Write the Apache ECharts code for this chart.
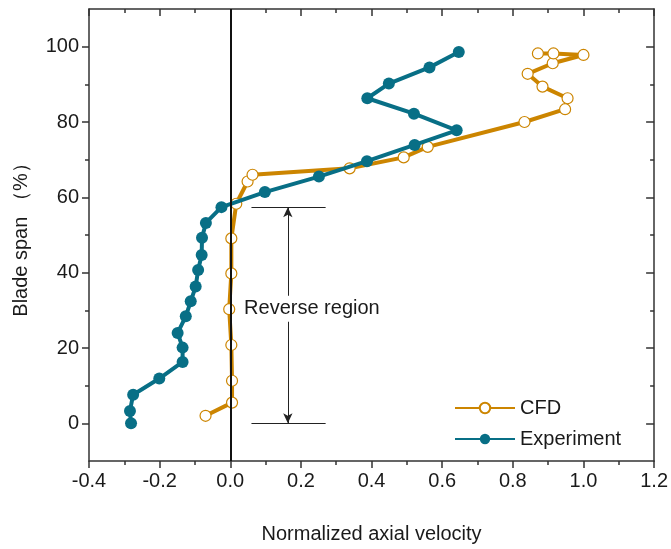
<!DOCTYPE html>
<html>
<head>
<meta charset="utf-8">
<script src="https://cdn.jsdelivr.net/npm/echarts@6/dist/echarts.min.js"></script>
<style>
  html, body { margin: 0; padding: 0; background: #fff; }
  #chart { width: 671px; height: 549px; }
</style>
</head>
<body>
<div id="chart"></div>
<script>
// CFD profile (open circles)
const cfdX = [-0.07, 0.005, 0.005, 0.003, -0.003, 0.003, 0.003, 0.017, 0.049, 0.063, 0.338, 0.491, 0.559, 0.833, 0.948, 0.955, 0.884, 0.842, 0.913, 1.0, 0.915, 0.871];
const cfdY = [2.0, 5.5, 11.3, 20.8, 30.3, 39.8, 49.1, 58.3, 64.2, 66.0, 67.7, 70.6, 73.4, 80.0, 83.4, 86.3, 89.4, 92.8, 95.6, 97.8, 98.2, 98.2];
// Experiment profile (filled circles)
const expX = [-0.281, -0.284, -0.275, -0.201, -0.135, -0.135, -0.149, -0.126, -0.112, -0.098, -0.091, -0.081, -0.080, -0.069, -0.025, 0.098, 0.251, 0.387, 0.522, 0.641, 0.520, 0.388, 0.449, 0.564, 0.647];
const expY = [0.0, 3.3, 7.6, 11.9, 16.3, 20.1, 24.0, 28.4, 32.4, 36.3, 40.7, 44.7, 49.3, 53.2, 57.4, 61.4, 65.5, 69.6, 73.9, 77.8, 82.2, 86.3, 90.2, 94.5, 98.6];

const xTicks = [-0.4, -0.2, 0.0, 0.2, 0.4, 0.6, 0.8, 1.0, 1.2];
const yMajor = [0, 20, 40, 60, 80, 100];
const yMinor = [10, 30, 50, 70, 90];

// reverse region annotation
const revX = [0.06, 0.27];
const revTop = 57.4;
const revBottom = 0;
const revArrowX = 0.163;
const revText = 'Reverse region';
const revTextPos = [0.032, 30.4];

const orange = '#CC8500';
const teal = '#086F86';
const axisColor = '#333';
const textColor = '#1a1a1a';
const font = 'Liberation Sans, Arial, sans-serif';

const pairs = (xs, ys) => xs.map((x, i) => [x, ys[i]]);

const chart = echarts.init(document.getElementById('chart'));

const tickLine = { color: axisColor, width: 1.5 };
const yBase = { type: 'value', min: -10, max: 110, splitLine: { show: false } };

chart.setOption({
  animation: false,
  grid: { left: 89, right: 16, top: 9, bottom: 85 },
  legend: {
    orient: 'vertical',
    left: 449, top: 393,
    itemWidth: 60, itemHeight: 13, itemGap: 11,
    textStyle: { fontFamily: font, fontSize: 20, color: textColor },
    data: ['CFD', 'Experiment']
  },
  xAxis: [{
    type: 'value', min: -0.4, max: 1.2, interval: 0.2,
    name: 'Normalized axial velocity', nameLocation: 'middle', nameGap: 63,
    nameTextStyle: { fontFamily: font, fontSize: 20, color: textColor },
    axisLine: { show: true, onZero: false, lineStyle: tickLine },
    axisTick: { show: true, length: 7, lineStyle: tickLine },
    minorTick: { show: true, splitNumber: 2, length: 4, lineStyle: tickLine },
    axisLabel: { fontFamily: font, fontSize: 20, color: textColor, margin: 10,
      formatter: v => xTicks.some(t => Math.abs(t - v) < 1e-6) ? v.toFixed(1) : '' },
    splitLine: { show: false }
  }, {
    type: 'value', min: -0.4, max: 1.2, interval: 0.2, position: 'top',
    axisLine: { show: true, onZero: false, lineStyle: tickLine },
    axisTick: { show: true, inside: true, length: 7, lineStyle: tickLine },
    minorTick: { show: true, splitNumber: 2, length: 4, lineStyle: tickLine },
    axisLabel: { show: false }, splitLine: { show: false }
  }],
  yAxis: [Object.assign({}, yBase, {
    name: 'Blade span （%）', nameLocation: 'middle', nameGap: 58,
    nameTextStyle: { fontFamily: font, fontSize: 20, color: textColor },
    axisLine: { show: true, onZero: false, lineStyle: tickLine },
    axisTick: { show: true, length: 7, customValues: yMajor, lineStyle: tickLine },
    axisLabel: { fontFamily: font, fontSize: 20, color: textColor, margin: 10, customValues: yMajor }
  }), Object.assign({}, yBase, {
    position: 'left',
    axisLine: { show: false, onZero: false },
    axisTick: { show: true, length: 4, customValues: yMinor, lineStyle: tickLine },
    axisLabel: { show: false }
  }), Object.assign({}, yBase, {
    position: 'right',
    axisLine: { show: true, onZero: false, lineStyle: tickLine },
    axisTick: { show: true, inside: true, length: 8, customValues: yMajor, lineStyle: tickLine },
    axisLabel: { show: false }
  }), Object.assign({}, yBase, {
    position: 'right',
    axisLine: { show: false, onZero: false },
    axisTick: { show: true, inside: true, length: 4, customValues: yMinor, lineStyle: tickLine },
    axisLabel: { show: false }
  })],
  series: [{
    name: 'CFD', type: 'line', data: pairs(cfdX, cfdY), z: 3,
    symbol: 'circle', symbolSize: 11, showAllSymbol: true,
    lineStyle: { color: orange, width: 4 },
    itemStyle: { color: '#fff', borderColor: orange, borderWidth: 1.2 }
  }, {
    name: 'Experiment', type: 'line', data: pairs(expX, expY), z: 4,
    symbol: 'circle', symbolSize: 12, showAllSymbol: true,
    lineStyle: { color: teal, width: 4 },
    itemStyle: { color: teal, borderColor: teal, borderWidth: 0 }
  }, {
    name: 'annot', type: 'line', data: [], z: 6, silent: true,
    markLine: {
      silent: true, animation: false,
      label: { show: false },
      lineStyle: { color: '#222', width: 1, type: 'solid' },
      data: [
        [{ coord: [revX[0], revTop], symbol: 'none' }, { coord: [revX[1], revTop], symbol: 'none' }],
        [{ coord: [revX[0], revBottom], symbol: 'none' }, { coord: [revX[1], revBottom], symbol: 'none' }],
        [{ coord: [revArrowX, revTop], symbol: 'arrow', symbolSize: [7, 10] }, { coord: [revArrowX, revBottom], symbol: 'arrow', symbolSize: [7, 10] }],
        [{ coord: [0, -10], symbol: 'none', lineStyle: { color: '#111', width: 2 } }, { coord: [0, 110], symbol: 'none', lineStyle: { color: '#111', width: 2 } }]
      ]
    }
  }, {
    name: 'text', type: 'scatter', data: [revTextPos], z: 8, silent: true,
    symbolSize: 1, itemStyle: { color: 'rgba(0,0,0,0)' },
    label: {
      show: true, position: 'right', distance: 0, formatter: revText,
      fontFamily: font, fontSize: 20, color: textColor, opacity: 1,
      backgroundColor: '#fff', padding: [3, 2, 3, 2]
    },
    emphasis: { disabled: true }
  }]
});
</script>
</body>
</html>
